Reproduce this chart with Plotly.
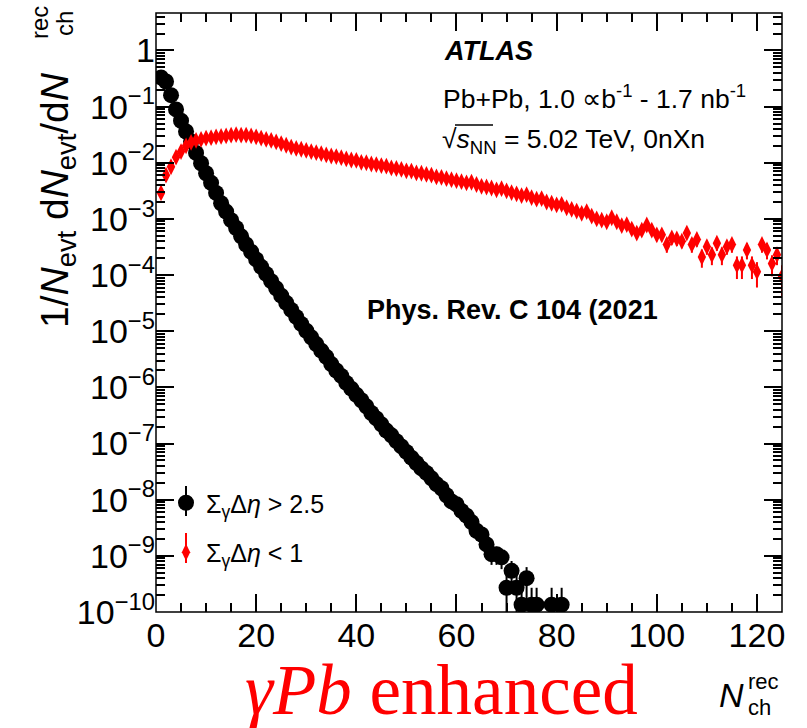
import plotly.graph_objects as go

# ---------------- data ----------------
black_n = list(range(1, 77)) + [79, 81]
black_v = [0.33, 0.28, 0.16, 0.089, 0.056, 0.036, 0.024, 0.015, 0.0098, 0.0065,
           0.0044, 0.0029, 0.0019, 0.00135, 9.5e-4, 6.9e-4, 4.9e-4, 3.5e-4, 2.6e-4, 1.9e-4,
           1.4e-4, 1.05e-4, 7.8e-5, 5.8e-5, 4.3e-5, 3.2e-5, 2.4e-5, 1.8e-5, 1.35e-5, 1.02e-5,
           7.8e-6, 5.9e-6, 4.5e-6, 3.5e-6, 2.6e-6, 2.0e-6, 1.6e-6, 1.2e-6, 9.5e-7, 7.4e-7,
           5.9e-7, 4.6e-7, 3.5e-7, 2.8e-7, 2.2e-7, 1.7e-7, 1.4e-7, 1.1e-7, 8.9e-8, 7.1e-8,
           5.6e-8, 4.5e-8, 3.6e-8, 3.0e-8, 2.4e-8, 1.9e-8, 1.6e-8, 1.2e-8, 9.3e-9, 8.3e-9,
           6.3e-9, 5.2e-9, 4.0e-9, 2.8e-9, 2.4e-9, 1.6e-9, 1.07e-9, 1.07e-9, 9.4e-10, 2.7e-10,
           5.4e-10, 2.7e-10, 1.35e-10, 4.0e-10, 1.35e-10, 1.35e-10, 1.35e-10, 1.35e-10]
black_err_up = [0] * 59 + [1.1e-9, 9e-10, 8e-10, 7e-10, 6e-10, 5.5e-10, 4.6e-10, 3.8e-10,
                           3.8e-10, 3.6e-10, 1.9e-10, 2.7e-10, 1.9e-10, 1.35e-10, 2.3e-10,
                           1.35e-10, 1.35e-10, 1.35e-10, 1.35e-10]
black_err_dn = [0] * 59 + [1.1e-9, 9e-10, 8e-10, 7e-10, 6e-10, 5.5e-10, 4.6e-10, 3.8e-10,
                           3.8e-10, 3.6e-10, 1.9e-10, 2.7e-10, 1.9e-10, 1.34e-10, 2.3e-10,
                           1.34e-10, 1.34e-10, 1.34e-10, 1.34e-10]

red_v = [2.9e-3, 6.0e-3, 8.5e-3, 1.26e-2, 1.58e-2, 2.0e-2, 2.3e-2, 2.5e-2, 2.6e-2, 2.75e-2,
         2.8e-2, 2.9e-2, 2.95e-2, 3.0e-2, 3.1e-2, 3.16e-2, 3.1e-2, 3.1e-2, 3.0e-2, 2.9e-2,
         2.75e-2, 2.6e-2, 2.5e-2, 2.35e-2, 2.2e-2, 2.05e-2, 1.9e-2, 1.8e-2, 1.74e-2, 1.66e-2,
         1.58e-2, 1.51e-2, 1.45e-2, 1.38e-2, 1.32e-2, 1.29e-2, 1.23e-2, 1.17e-2, 1.12e-2, 1.1e-2,
         1.02e-2, 1.0e-2, 9.5e-3, 9.3e-3, 8.9e-3, 8.7e-3, 8.1e-3, 7.9e-3, 7.6e-3, 7.2e-3,
         7.1e-3, 6.6e-3, 6.5e-3, 6.2e-3, 6.0e-3, 5.6e-3, 5.5e-3, 5.2e-3, 5.0e-3, 4.8e-3,
         4.6e-3, 4.4e-3, 4.5e-3, 4.1e-3, 3.8e-3, 3.7e-3, 3.55e-3, 3.3e-3, 3.45e-3, 3.16e-3,
         2.95e-3, 2.8e-3, 2.6e-3, 2.7e-3, 2.4e-3, 2.25e-3, 2.3e-3, 2.0e-3, 1.9e-3, 1.78e-3,
         1.82e-3, 1.58e-3, 1.48e-3, 1.38e-3, 1.26e-3, 1.35e-3, 1.12e-3, 1.0e-3, 9.5e-4, 8.9e-4,
         1.05e-3, 8.9e-4, 7.6e-4, 7.9e-4, 6.6e-4, 5.6e-4, 6.3e-4, 7.8e-4, 6.3e-4, 5.2e-4,
         5.2e-4, 3.5e-4, 4.6e-4, 4.4e-4, 4.0e-4, 5.6e-4, 3.5e-4, 4.3e-4, 2.1e-4, 3.2e-4,
         2.3e-4, 3.7e-4, 2.3e-4, 3.2e-4, 3.5e-4, 1.5e-4, 1.5e-4, 2.8e-4, 1.5e-4, 1.15e-4,
         3.5e-4, 2.8e-4, 1.6e-4, 2.3e-4, 9.5e-5]
red_n = list(range(1, len(red_v) + 1))
red_err = [0] * 87 + [1.5e-4, 1.5e-4, 1.5e-4, 1.6e-4, 1.5e-4, 1.4e-4, 1.4e-4, 1.3e-4, 1.2e-4,
                      1.3e-4, 1.4e-4, 1.3e-4, 1.2e-4, 1.2e-4, 1.0e-4, 1.1e-4, 1.1e-4, 1.0e-4,
                      1.2e-4, 1.0e-4, 1.1e-4, 7.5e-5, 9e-5, 8e-5, 1.0e-4, 8e-5, 9e-5, 1.0e-4,
                      6.5e-5, 6.5e-5, 9e-5, 6.5e-5, 5.5e-5, 1.0e-4, 9e-5, 6.5e-5, 8e-5, 5.5e-5]

y_tickvals = [1e-10, 1e-9, 1e-8, 1e-7, 1e-6, 1e-5, 1e-4, 1e-3, 1e-2, 1e-1, 1]
y_ticktext = ["10<sup>\u221210</sup>", "10<sup>\u22129</sup>", "10<sup>\u22128</sup>",
              "10<sup>\u22127</sup>", "10<sup>\u22126</sup>", "10<sup>\u22125</sup>",
              "10<sup>\u22124</sup>", "10<sup>\u22123</sup>", "10<sup>\u22122</sup>",
              "10<sup>\u22121</sup>", "1"]
x_tickvals = [0, 20, 40, 60, 80, 100, 120]

# ---------------- layout helpers ----------------
W, H = 807, 728
L, R, T, B = 156, 25, 13, 116
PW, PH = W - L - R, H - T - B


def px(x):
    return (x - L) / PW


def py(y):
    return (H - B - y) / PH


FONT = "Liberation Sans, Arial, sans-serif"
XR = [0, 125]
YR = [-10, 0.667]

fig = go.Figure()
fig.add_trace(go.Scatter(
    x=black_n, y=black_v, mode="markers", name="\u03a3<sub>\u03b3</sub>\u0394<i>\u03b7</i> > 2.5",
    marker=dict(symbol="circle", size=16, color="black"),
    error_y=dict(type="data", symmetric=False, array=black_err_up, arrayminus=black_err_dn,
                 color="black", thickness=2, width=0),
    legendgroup="a"))
fig.add_trace(go.Scatter(
    x=red_n, y=red_v, mode="markers", name="\u03a3<sub>\u03b3</sub>\u0394<i>\u03b7</i> < 1",
    marker=dict(symbol="diamond-tall", size=12, color="#ff0000"),
    error_y=dict(type="data", array=red_err, color="#ff0000", thickness=2, width=0),
    legendgroup="b"))

tick_common = dict(ticks="inside", tickwidth=1.5, ticklen=18, tickcolor="black",
                   showgrid=False, zeroline=False, showline=False)
minor_x = dict(ticks="inside", ticklen=9, dtick=5, tick0=0, tickwidth=1.5,
               tickcolor="black", showgrid=False)
minor_y = dict(ticks="inside", ticklen=9, dtick="D1", tickwidth=1.5,
               tickcolor="black", showgrid=False)

fig.update_layout(
    xaxis=dict(range=XR, tickvals=x_tickvals, minor=minor_x,
               tickfont=dict(family=FONT, size=34, color="black"), **tick_common),
    yaxis=dict(type="log", range=YR, tickvals=y_tickvals, ticktext=y_ticktext, minor=minor_y,
               tickfont=dict(family=FONT, size=34, color="black"), **tick_common),
    xaxis2=dict(range=XR, tickvals=x_tickvals, minor=minor_x, overlaying="x", side="top",
                showticklabels=False, **tick_common),
    yaxis2=dict(type="log", range=YR, tickvals=y_tickvals, minor=minor_y, overlaying="y",
                side="right", showticklabels=False, **tick_common),
)
# invisible trace to activate the mirrored axes
fig.add_trace(go.Scatter(x=[None], y=[None], xaxis="x2", yaxis="y2", showlegend=False,
                         hoverinfo="skip"))

ann = []
ann.append(dict(x=px(442), y=py(51), text="<b><i>ATLAS</i></b>", xanchor="left", yanchor="middle",
                font=dict(family=FONT, size=27, color="black")))
ann.append(dict(x=px(441), y=py(97), text="Pb+Pb, 1.0 \u221db<sup>-1</sup> - 1.7 nb<sup>-1</sup>",
                xanchor="left", yanchor="middle", font=dict(family=FONT, size=26.5, color="black")))
ann.append(dict(x=px(440), y=py(141), text="\u221a<i>s</i><sub>NN</sub> = 5.02 TeV, 0nXn",
                xanchor="left", yanchor="middle", font=dict(family=FONT, size=26.5, color="black")))
ann.append(dict(x=px(365), y=py(310), text="<b>Phys. Rev. C 104 (2021</b>",
                xanchor="left", yanchor="middle", font=dict(family=FONT, size=27, color="black")))
# y-axis title (rotated)
ann.append(dict(x=px(57), y=py(330), text="1/<i>N</i><sub>evt</sub> d<i>N</i><sub>evt</sub>/d<i>N</i>",
                textangle=-90, xanchor="center", yanchor="bottom",
                font=dict(family=FONT, size=39, color="black")))
ann.append(dict(x=px(39), y=py(22), text="rec", textangle=-90, xanchor="center", yanchor="middle",
                font=dict(family=FONT, size=24, color="black")))
ann.append(dict(x=px(64), y=py(24), text="ch", textangle=-90, xanchor="center", yanchor="middle",
                font=dict(family=FONT, size=24, color="black")))
# x-axis title
ann.append(dict(x=px(731), y=py(695), text="<i>N</i>", xanchor="center", yanchor="middle",
                font=dict(family=FONT, size=34, color="black")))
ann.append(dict(x=px(746), y=py(681), text="rec", xanchor="left", yanchor="middle",
                font=dict(family=FONT, size=22, color="black")))
ann.append(dict(x=px(746), y=py(707), text="ch", xanchor="left", yanchor="middle",
                font=dict(family=FONT, size=22, color="black")))
# red caption
ann.append(dict(x=px(441), y=py(690), text="<i>\u03b3Pb</i> enhanced", xanchor="center",
                yanchor="middle", font=dict(family="Liberation Serif, Times New Roman, serif",
                                            size=71, color="#ff0000")))
for a in ann:
    a.update(xref="paper", yref="paper", showarrow=False)

shapes = [
    # plot frame
    dict(type="rect", xref="paper", yref="paper", x0=0, x1=1, y0=0, y1=1,
         line=dict(color="black", width=1.5)),
    # legend error-bar strokes
    dict(type="line", xref="paper", yref="paper", x0=px(186), x1=px(186), y0=py(486), y1=py(516),
         line=dict(color="black", width=2)),
    dict(type="line", xref="paper", yref="paper", x0=px(186), x1=px(186), y0=py(533), y1=py(563),
         line=dict(color="#ff0000", width=2)),
    # overline of the square root
    dict(type="line", xref="paper", yref="paper", x0=px(455), x1=px(493), y0=py(125), y1=py(125),
         line=dict(color="black", width=1.5)),
]

fig.update_layout(
    width=W, height=H, margin=dict(l=L, r=R, t=T, b=B),
    plot_bgcolor="white", paper_bgcolor="white",
    annotations=ann, shapes=shapes,
    showlegend=True,
    legend=dict(x=px(166), y=py(480), xanchor="left", yanchor="top",
                bgcolor="rgba(0,0,0,0)", font=dict(family=FONT, size=25, color="black"),
                itemwidth=30, tracegroupgap=14, traceorder="grouped"),
)

fig.write_html("out.html")
